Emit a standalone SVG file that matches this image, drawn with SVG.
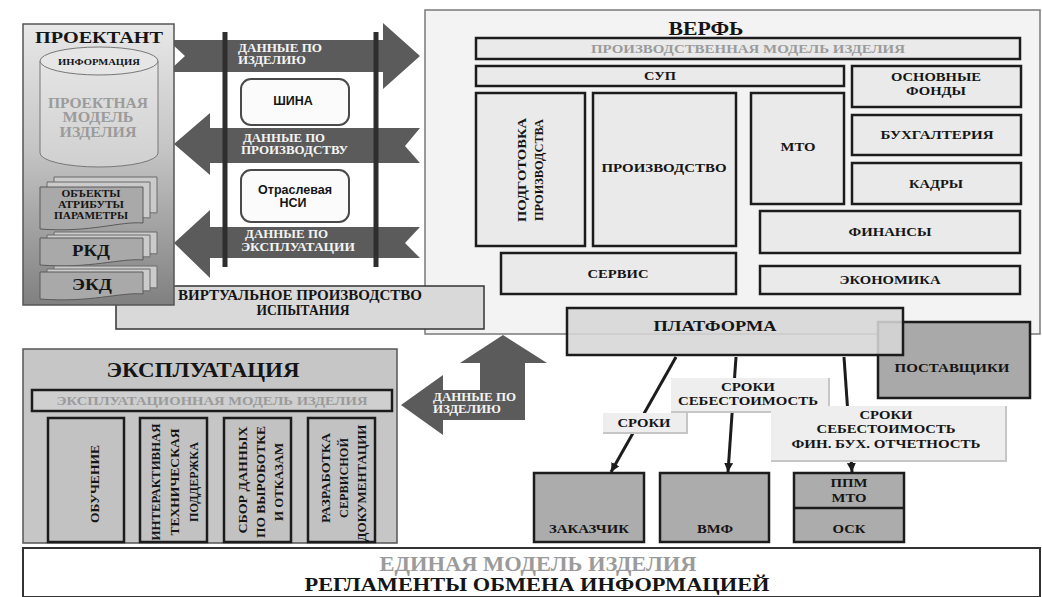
<svg xmlns="http://www.w3.org/2000/svg" width="1042" height="597" viewBox="0 0 1042 597">
<style>
.sf{font-family:"Liberation Serif","Times New Roman",serif;font-weight:bold;text-anchor:middle;fill:#151515}
.ss{font-family:"Liberation Sans",Arial,sans-serif;font-weight:bold;text-anchor:middle;fill:#151515;font-size:12.5px}
.gr{fill:#9b9b9b}
.wt{fill:#f4f4f4;text-anchor:start}
.ib{fill:#eaeaea;stroke:#1c1c1c;stroke-width:2.5}
.eb{fill:#c2c2c2;stroke:#1c1c1c;stroke-width:2.5}
.bb{fill:#acacac;stroke:#1c1c1c;stroke-width:2.5}
.arr{fill:#5b5b5b}
.ln{stroke:#1c1c1c;stroke-width:3;fill:none;marker-end:url(#ah)}
.lb{fill:#eeeeee}
.lbe{fill:none;stroke:#c6c6c6;stroke-width:2}
.doc{fill:#a9a9a9;stroke:#5a5a5a;stroke-width:1}
.docb{fill:#cbcbcb;stroke:#6a6a6a;stroke-width:1}
.bar{stroke:#2e2e2e;stroke-width:5}
.rr{fill:#fbfbfb;stroke:#4a4a4a;stroke-width:2}
</style>
<defs>
<linearGradient id="pg" x1="0" y1="0" x2="0" y2="1">
<stop offset="0" stop-color="#e8e8e8"/>
<stop offset="0.45" stop-color="#c4c4c4"/>
<stop offset="1" stop-color="#808080"/>
</linearGradient>
<linearGradient id="cg" x1="0" y1="0" x2="0" y2="1">
<stop offset="0" stop-color="#e4e4e4"/>
<stop offset="1" stop-color="#d0d0d0"/>
</linearGradient>
<marker id="ah" viewBox="0 0 10 10" refX="10" refY="5" markerWidth="3" markerHeight="3" orient="auto" markerUnits="strokeWidth">
<path d="M0,0 L10,5 L0,10 z" fill="#1c1c1c"/>
</marker>
<path id="docL" d="M0,0 H103 V36 C80,34 50,46 0,42 Z"/>
<path id="docS" d="M0,0 H103 V22 C80,20 50,31 0,27 Z"/>
</defs>
<rect width="1042" height="597" fill="#ffffff"/>

<g id="verf">
<rect x="425" y="10" width="615" height="324" fill="#f3f3f3" stroke="#7a7a7a" stroke-width="1.5"/>
<text class="sf" x="706" y="35" font-size="18" textLength="75" lengthAdjust="spacingAndGlyphs">ВЕРФЬ</text>
<g id="proizv-model">
<rect class="ib" x="476" y="38" width="544" height="21"/>
<text class="sf gr" x="748" y="53" font-size="12" textLength="314" lengthAdjust="spacingAndGlyphs">ПРОИЗВОДСТВЕННАЯ МОДЕЛЬ ИЗДЕЛИЯ</text>
</g>
<g id="sup">
<rect class="ib" x="476" y="66" width="368" height="20"/>
<text class="sf" x="660" y="80" font-size="12" textLength="32" lengthAdjust="spacingAndGlyphs">СУП</text>
</g>
<g id="osnovnye-fondy">
<rect class="ib" x="852" y="66" width="169" height="41"/>
<text class="sf" x="936" y="81" font-size="12" textLength="90" lengthAdjust="spacingAndGlyphs">ОСНОВНЫЕ</text>
<text class="sf" x="936" y="95" font-size="12" textLength="60" lengthAdjust="spacingAndGlyphs">ФОНДЫ</text>
</g>
<g id="podgotovka">
<rect class="ib" x="476" y="93" width="109" height="153"/>
<text class="sf" transform="translate(526,170) rotate(-90)" font-size="13" textLength="104" lengthAdjust="spacingAndGlyphs">ПОДГОТОВКА</text>
<text class="sf" transform="translate(543,170) rotate(-90)" font-size="13" textLength="102" lengthAdjust="spacingAndGlyphs">ПРОИЗВОДСТВА</text>
</g>
<g id="proizvodstvo">
<rect class="ib" x="593" y="93" width="143" height="153"/>
<text class="sf" x="664" y="172" font-size="12" textLength="125" lengthAdjust="spacingAndGlyphs">ПРОИЗВОДСТВО</text>
</g>
<g id="mto">
<rect class="ib" x="751" y="93" width="93" height="111"/>
<text class="sf" x="798" y="151" font-size="12" textLength="35" lengthAdjust="spacingAndGlyphs">МТО</text>
</g>
<g id="buhgalteriya">
<rect class="ib" x="852" y="115" width="169" height="40"/>
<text class="sf" x="937" y="139" font-size="12" textLength="113" lengthAdjust="spacingAndGlyphs">БУХГАЛТЕРИЯ</text>
</g>
<g id="kadry">
<rect class="ib" x="852" y="163" width="169" height="41"/>
<text class="sf" x="936" y="188" font-size="12" textLength="54" lengthAdjust="spacingAndGlyphs">КАДРЫ</text>
</g>
<g id="finansy">
<rect class="ib" x="760" y="211" width="260" height="42"/>
<text class="sf" x="890" y="236" font-size="12" textLength="83" lengthAdjust="spacingAndGlyphs">ФИНАНСЫ</text>
</g>
<g id="servis">
<rect class="ib" x="501" y="253" width="235" height="41"/>
<text class="sf" x="618" y="278" font-size="12" textLength="61" lengthAdjust="spacingAndGlyphs">СЕРВИС</text>
</g>
<g id="ekonomika">
<rect class="ib" x="760" y="266" width="260" height="28"/>
<text class="sf" x="890" y="284" font-size="12" textLength="101" lengthAdjust="spacingAndGlyphs">ЭКОНОМИКА</text>
</g>
</g>

<g id="virtual">
<rect x="116" y="286" width="368" height="43" fill="#d9d9d9" stroke="#333" stroke-width="1.5"/>
<text class="sf" x="300" y="300" font-size="14" textLength="244" lengthAdjust="spacingAndGlyphs">ВИРТУАЛЬНОЕ ПРОИЗВОДСТВО</text>
<text class="sf" x="303" y="315" font-size="14" textLength="93" lengthAdjust="spacingAndGlyphs">ИСПЫТАНИЯ</text>
</g>

<g id="connectors">
<g id="arrow-izdeliyu">
<polygon class="arr" points="172,40 383,40 383,23 420,56 383,89 383,72 172,72 172,68 185,56 172,44"/>
<text class="sf wt" x="238" y="52" font-size="12" textLength="84" lengthAdjust="spacingAndGlyphs">ДАННЫЕ ПО</text>
<text class="sf wt" x="238" y="64" font-size="12" textLength="68" lengthAdjust="spacingAndGlyphs">ИЗДЕЛИЮ</text>
</g>
<g id="arrow-proizvodstvu">
<polygon class="arr" points="174,144 210,113 210,128 420,128 405,146 420,163 210,163 210,175"/>
<text class="sf wt" x="243" y="142" font-size="12" textLength="82" lengthAdjust="spacingAndGlyphs">ДАННЫЕ ПО</text>
<text class="sf wt" x="241" y="154" font-size="12" textLength="107" lengthAdjust="spacingAndGlyphs">ПРОИЗВОДСТВУ</text>
</g>
<g id="arrow-ekspluatatsii">
<polygon class="arr" points="174,243 210,210 210,227 420,227 405,243 420,258 210,258 210,278"/>
<text class="sf wt" x="245" y="238" font-size="12" textLength="83" lengthAdjust="spacingAndGlyphs">ДАННЫЕ ПО</text>
<text class="sf wt" x="241" y="251" font-size="12" textLength="114" lengthAdjust="spacingAndGlyphs">ЭКСПЛУАТАЦИИ</text>
</g>
<g id="bus-bars">
<line class="bar" x1="225" y1="32" x2="225" y2="267"/>
<line class="bar" x1="376" y1="32" x2="376" y2="267"/>
</g>
<g id="arrow-izdeliyu-2">
<polygon class="arr" points="401,405 443,375 443,390 480,390 480,363 460,363 503,335 547,363 525,363 525,420 443,420 443,435"/>
<text class="sf wt" x="433" y="401" font-size="12" textLength="83" lengthAdjust="spacingAndGlyphs">ДАННЫЕ ПО</text>
<text class="sf wt" x="433" y="413" font-size="12" textLength="68" lengthAdjust="spacingAndGlyphs">ИЗДЕЛИЮ</text>
</g>
</g>

<g id="shina">
<rect class="rr" x="241" y="79" width="108" height="46" rx="10"/>
<text class="ss" x="293" y="105">ШИНА</text>
</g>
<g id="nsi">
<rect class="rr" x="241" y="170" width="108" height="52" rx="10"/>
<text class="ss" x="295" y="194">Отраслевая</text>
<text class="ss" x="293" y="207">НСИ</text>
</g>

<g id="proektant">
<rect x="23" y="24" width="151" height="281" fill="url(#pg)" stroke="#555" stroke-width="1.5"/>
<text class="sf" x="99" y="43" font-size="17" textLength="128" lengthAdjust="spacingAndGlyphs">ПРОЕКТАНТ</text>
<g id="cylinder">
<path d="M40,61 V153 A59,14 0 0 0 158,153 V61 Z" fill="url(#cg)" stroke="#777" stroke-width="1"/>
<ellipse cx="99" cy="61" rx="59" ry="14" fill="#e6e6e6" stroke="#777" stroke-width="1"/>
<text class="sf" x="99" y="65" font-size="9" textLength="82" lengthAdjust="spacingAndGlyphs">ИНФОРМАЦИЯ</text>
<text class="sf gr" x="98" y="108" font-size="14" textLength="100" lengthAdjust="spacingAndGlyphs">ПРОЕКТНАЯ</text>
<text class="sf gr" x="98" y="122" font-size="14" textLength="71" lengthAdjust="spacingAndGlyphs">МОДЕЛЬ</text>
<text class="sf gr" x="98" y="137" font-size="14" textLength="77" lengthAdjust="spacingAndGlyphs">ИЗДЕЛИЯ</text>
</g>
<g id="doc-obekty">
<use href="#docL" class="docb" x="54" y="177"/>
<use href="#docL" class="docb" x="47" y="182"/>
<use href="#docL" class="doc" x="40" y="187"/>
<text class="sf" x="91" y="197" font-size="10.5" textLength="59" lengthAdjust="spacingAndGlyphs">ОБЪЕКТЫ</text>
<text class="sf" x="91" y="208" font-size="10.5" textLength="66" lengthAdjust="spacingAndGlyphs">АТРИБУТЫ</text>
<text class="sf" x="91" y="219" font-size="10.5" textLength="74" lengthAdjust="spacingAndGlyphs">ПАРАМЕТРЫ</text>
</g>
<g id="doc-rkd">
<use href="#docS" class="docb" x="54" y="232"/>
<use href="#docS" class="docb" x="47" y="235"/>
<use href="#docS" class="doc" x="40" y="238"/>
<text class="sf" x="91" y="256" font-size="17" textLength="38" lengthAdjust="spacingAndGlyphs">РКД</text>
</g>
<g id="doc-ekd">
<use href="#docS" class="docb" x="54" y="266"/>
<use href="#docS" class="docb" x="47" y="269"/>
<use href="#docS" class="doc" x="40" y="272"/>
<text class="sf" x="92" y="290" font-size="17" textLength="40" lengthAdjust="spacingAndGlyphs">ЭКД</text>
</g>
</g>

<g id="ekspluatatsiya">
<rect x="23" y="349" width="374" height="194" fill="#c6c6c6" stroke="#555" stroke-width="1.5"/>
<text class="sf" x="203" y="377" font-size="20" textLength="193" lengthAdjust="spacingAndGlyphs">ЭКСПЛУАТАЦИЯ</text>
<g id="eksp-model">
<rect x="32" y="390" width="360" height="21" fill="#cfcfcf" stroke="#1c1c1c" stroke-width="2.5"/>
<text class="sf gr" x="212" y="405" font-size="12" textLength="311" lengthAdjust="spacingAndGlyphs">ЭКСПЛУАТАЦИОННАЯ МОДЕЛЬ ИЗДЕЛИЯ</text>
</g>
<g id="obuchenie">
<rect class="eb" x="48" y="418" width="76" height="124"/>
<text class="sf" transform="translate(99,484) rotate(-90)" font-size="13" textLength="78" lengthAdjust="spacingAndGlyphs">ОБУЧЕНИЕ</text>
</g>
<g id="podderzhka">
<rect class="eb" x="140" y="418" width="67" height="124"/>
<text class="sf" transform="translate(160,482) rotate(-90)" font-size="13" textLength="117" lengthAdjust="spacingAndGlyphs">ИНТЕРАКТИВНАЯ</text>
<text class="sf" transform="translate(179,482) rotate(-90)" font-size="13" textLength="107" lengthAdjust="spacingAndGlyphs">ТЕХНИЧЕСКАЯ</text>
<text class="sf" transform="translate(198,482) rotate(-90)" font-size="13" textLength="80" lengthAdjust="spacingAndGlyphs">ПОДДЕРЖКА</text>
</g>
<g id="sbor-dannyh">
<rect class="eb" x="224" y="418" width="67" height="124"/>
<text class="sf" transform="translate(247,480) rotate(-90)" font-size="13" textLength="107" lengthAdjust="spacingAndGlyphs">СБОР ДАННЫХ</text>
<text class="sf" transform="translate(265,482) rotate(-90)" font-size="13" textLength="112" lengthAdjust="spacingAndGlyphs">ПО ВЫРОБОТКЕ</text>
<text class="sf" transform="translate(283,482) rotate(-90)" font-size="13" textLength="78" lengthAdjust="spacingAndGlyphs">И ОТКАЗАМ</text>
</g>
<g id="razrabotka">
<rect class="eb" x="308" y="418" width="67" height="124"/>
<text class="sf" transform="translate(330,478) rotate(-90)" font-size="13" textLength="90" lengthAdjust="spacingAndGlyphs">РАЗРАБОТКА</text>
<text class="sf" transform="translate(348,478) rotate(-90)" font-size="13" textLength="80" lengthAdjust="spacingAndGlyphs">СЕРВИСНОЙ</text>
<text class="sf" transform="translate(366,483) rotate(-90)" font-size="13" textLength="117" lengthAdjust="spacingAndGlyphs">ДОКУМЕНТАЦИИ</text>
</g>
</g>

<g id="postavshiki">
<rect x="878" y="322" width="152" height="76" fill="#a9a9a9" stroke="#1c1c1c" stroke-width="2.5"/>
<text class="sf" x="952" y="372" font-size="13" textLength="115" lengthAdjust="spacingAndGlyphs">ПОСТАВЩИКИ</text>
</g>
<g id="platforma">
<rect x="567" y="308" width="336" height="47" fill="#d6d6d6" fill-opacity="0.88" stroke="#1c1c1c" stroke-width="2.5"/>
<text class="sf" x="715" y="331" font-size="15" textLength="123" lengthAdjust="spacingAndGlyphs">ПЛАТФОРМА</text>
</g>

<g id="platform-links">
<line class="ln" x1="676" y1="357" x2="611" y2="472"/>
<line class="ln" x1="736" y1="357" x2="728" y2="472"/>
<line class="ln" x1="844" y1="357" x2="852" y2="472"/>
<g id="label-sroki">
<rect class="lb" x="603" y="413" width="84" height="20"/>
<polyline class="lbe" points="687,413 687,433 603,433"/>
<text class="sf" x="644" y="427" font-size="12" textLength="53" lengthAdjust="spacingAndGlyphs">СРОКИ</text>
</g>
<g id="label-sroki-seb">
<rect class="lb" x="671" y="378" width="158" height="34"/>
<polyline class="lbe" points="829,378 829,412 671,412"/>
<text class="sf" x="748" y="391" font-size="12" textLength="54" lengthAdjust="spacingAndGlyphs">СРОКИ</text>
<text class="sf" x="748" y="405" font-size="12" textLength="140" lengthAdjust="spacingAndGlyphs">СЕБЕСТОИМОСТЬ</text>
</g>
<g id="label-sroki-fin">
<rect class="lb" x="771" y="406" width="235" height="55"/>
<polyline class="lbe" points="1006,406 1006,461 771,461"/>
<text class="sf" x="886" y="419" font-size="12" textLength="53" lengthAdjust="spacingAndGlyphs">СРОКИ</text>
<text class="sf" x="886" y="433" font-size="12" textLength="139" lengthAdjust="spacingAndGlyphs">СЕБЕСТОИМОСТЬ</text>
<text class="sf" x="886" y="448" font-size="12" textLength="189" lengthAdjust="spacingAndGlyphs">ФИН. БУХ. ОТЧЕТНОСТЬ</text>
</g>
</g>

<g id="zakazchik">
<rect class="bb" x="534" y="473" width="110" height="69"/>
<text class="sf" x="589" y="533" font-size="12" textLength="80" lengthAdjust="spacingAndGlyphs">ЗАКАЗЧИК</text>
</g>
<g id="vmf">
<rect class="bb" x="660" y="473" width="109" height="69"/>
<text class="sf" x="715" y="533" font-size="12" textLength="36" lengthAdjust="spacingAndGlyphs">ВМФ</text>
</g>
<g id="ppm-osk">
<rect class="bb" x="794" y="473" width="110" height="69"/>
<line x1="794" y1="508" x2="904" y2="508" stroke="#1c1c1c" stroke-width="2.5"/>
<text class="sf" x="849" y="487" font-size="12" textLength="37" lengthAdjust="spacingAndGlyphs">ППМ</text>
<text class="sf" x="849" y="502" font-size="12" textLength="35" lengthAdjust="spacingAndGlyphs">МТО</text>
<text class="sf" x="849" y="533" font-size="12" textLength="33" lengthAdjust="spacingAndGlyphs">ОСК</text>
</g>

<g id="edinaya-model">
<rect x="23" y="548" width="1017" height="49" fill="#ffffff" stroke="#333" stroke-width="2"/>
<text class="sf gr" x="538" y="571" font-size="21" textLength="317" lengthAdjust="spacingAndGlyphs">ЕДИНАЯ МОДЕЛЬ ИЗДЕЛИЯ</text>
<text class="sf" x="537" y="591" font-size="19" textLength="465" lengthAdjust="spacingAndGlyphs">РЕГЛАМЕНТЫ ОБМЕНА ИНФОРМАЦИЕЙ</text>
</g>
</svg>
